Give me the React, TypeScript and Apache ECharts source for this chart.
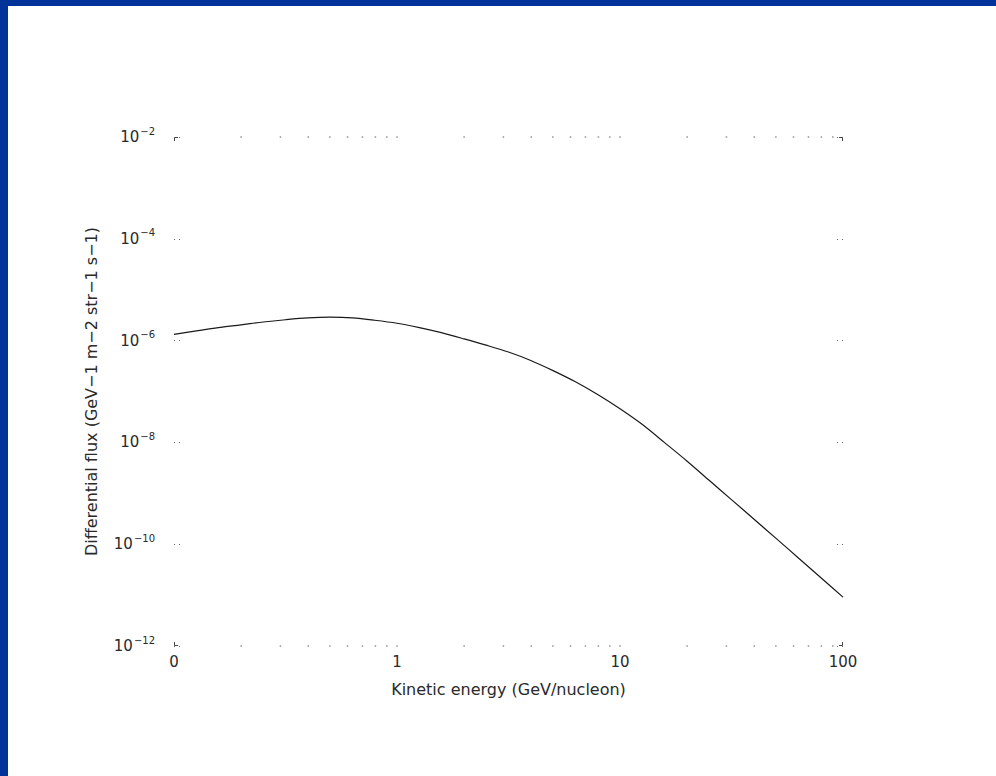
import React, { useEffect, useRef } from "react";
import * as echarts from "echarts";

// Kinetic energy (GeV/nucleon) and differential flux samples along the spectrum
const energy = [
  0.1, 0.126, 0.158, 0.2, 0.251, 0.316, 0.398, 0.501, 0.631, 0.794,
  1, 1.26, 1.58, 2, 2.51, 3.16, 3.98, 5.01, 6.31, 7.94,
  10, 12.6, 15.8, 20, 25.1, 31.6, 39.8, 50.1, 63.1, 79.4, 100,
];
const flux = [
  1.32e-6, 1.55e-6, 1.8e-6, 2.04e-6, 2.32e-6, 2.57e-6, 2.79e-6, 2.88e-6, 2.79e-6, 2.51e-6,
  2.19e-6, 1.8e-6, 1.43e-6, 1.08e-6, 8.13e-7, 5.96e-7, 4.07e-7, 2.57e-7, 1.55e-7, 8.71e-8,
  4.57e-8, 2.24e-8, 1.0e-8, 4.27e-9, 1.8e-9, 7.5e-10, 3.13e-10, 1.3e-10, 5.37e-11, 2.21e-11, 9.12e-12,
];

// Axis ranges and tick positions
const xRange = [0.1, 100];
const yRange = [1e-12, 1e-2];
const xTickEnergies = [
  0.2, 0.3, 0.4, 0.5, 0.6, 0.7, 0.8, 0.9, 1,
  2, 3, 4, 5, 6, 7, 8, 9, 10,
  20, 30, 40, 50, 60, 70, 80, 90,
];
const xTickLabels: Record<string, string> = { "0.1": "0", "1": "1", "10": "10", "100": "100" };

const xTitle = "Kinetic energy (GeV/nucleon)";
const yTitle = "Differential flux (GeV−1 m−2 str−1 s−1)";

const FONT = "DejaVu Sans, Liberation Sans, Arial, sans-serif";
const TEXT = "#2a2a2a";
const TICK = "#666";

const GRID = { left: 174, right: 153, top: 137, bottom: 130 };
const W = 996;
const H = 776;

export default function App() {
  const ref = useRef<HTMLDivElement>(null);

  useEffect(() => {
    document.body.style.margin = "0";
    if (!ref.current) return;
    const chart = echarts.init(ref.current, undefined, { renderer: "svg" });

    const L = GRID.left;
    const R = W - GRID.right;
    const T = GRID.top;
    const B = H - GRID.bottom;
    const c = 4;
    const corner = (pts: number[][]) => ({
      type: "polyline",
      shape: { points: pts },
      style: { stroke: "#444", lineWidth: 1, fill: "none" },
      silent: true,
    });

    const tickDots = xTickEnergies.flatMap((e) => [[e, yRange[0]], [e, yRange[1]]]);

    const yLabel = (v: number) => {
      const exp = Math.round(Math.log10(v));
      return `10{s|${exp < 0 ? "−" : ""}${Math.abs(exp)}}`;
    };

    const yAxisCommon = {
      type: "log",
      logBase: 10,
      min: yRange[0],
      max: yRange[1],
      interval: 2,
      splitLine: { show: false },
      axisLine: { show: false },
      axisTick: {
        show: true,
        inside: true,
        length: 7,
        lineStyle: { color: TICK, width: 1, type: [1, 4] },
      },
    };

    chart.setOption({
      animation: false,
      backgroundColor: "#ffffff",
      textStyle: { fontFamily: FONT },
      grid: { ...GRID, containLabel: false },
      xAxis: [
        {
          type: "log",
          logBase: 10,
          min: xRange[0],
          max: xRange[1],
          splitLine: { show: false },
          axisLine: { show: false },
          axisTick: { show: false },
          axisLabel: {
            color: TEXT,
            fontSize: 15,
            fontFamily: FONT,
            margin: 8,
            formatter: (v: number) => {
              const k = String(Number(v.toPrecision(3)));
              return xTickLabels[k] ?? "";
            },
          },
          name: xTitle,
          nameLocation: "middle",
          nameGap: 35,
          nameMoveOverlap: false,
          nameTextStyle: { color: TEXT, fontSize: 16, fontFamily: FONT },
        },
        {
          type: "log",
          logBase: 10,
          position: "top",
          min: xRange[0],
          max: xRange[1],
          splitLine: { show: false },
          axisLine: { show: false },
          axisTick: { show: false },
          axisLabel: { show: false },
        },
      ],
      yAxis: [
        {
          ...yAxisCommon,
          position: "left",
          axisLabel: {
            color: TEXT,
            fontSize: 15,
            fontFamily: FONT,
            margin: 19,
            formatter: yLabel,
            rich: {
              s: { fontSize: 10, fontFamily: FONT, color: TEXT, padding: [0, 0, 12, 1] },
            },
          },
          name: yTitle,
          nameLocation: "middle",
          nameGap: 75,
          nameRotate: 90,
          nameMoveOverlap: false,
          nameTextStyle: { color: TEXT, fontSize: 16, fontFamily: FONT },
        },
        {
          ...yAxisCommon,
          position: "right",
          axisLabel: { show: false },
        },
      ],
      graphic: [
        { type: "rect", shape: { x: 0, y: 0, width: W, height: 6 }, style: { fill: "#003399" }, silent: true },
        { type: "rect", shape: { x: 0, y: 0, width: 8, height: H }, style: { fill: "#003399" }, silent: true },
        corner([[L + c, T + 0.5], [L + 0.5, T + 0.5], [L + 0.5, T + c]]),
        corner([[R - c, T + 0.5], [R - 0.5, T + 0.5], [R - 0.5, T + c]]),
        corner([[L + 0.5, B - c], [L + 0.5, B - 0.5], [L + c, B - 0.5]]),
        corner([[R - 0.5, B - c], [R - 0.5, B - 0.5], [R - c, B - 0.5]]),
      ],
      series: [
        {
          type: "scatter",
          xAxisIndex: 0,
          yAxisIndex: 0,
          data: tickDots,
          symbol: "rect",
          symbolSize: 1.5,
          itemStyle: { color: "#777" },
          silent: true,
          z: 1,
        },
        {
          type: "line",
          xAxisIndex: 0,
          yAxisIndex: 0,
          data: energy.map((e, i) => [e, flux[i]]),
          symbol: "none",
          smooth: 0.3,
          lineStyle: { color: "#1a1a1a", width: 1.2 },
          silent: true,
          z: 3,
        },
      ],
    });

    return () => chart.dispose();
  }, []);

  return <div ref={ref} style={{ width: W, height: H, position: "absolute", left: 0, top: 0 }} />;
}
